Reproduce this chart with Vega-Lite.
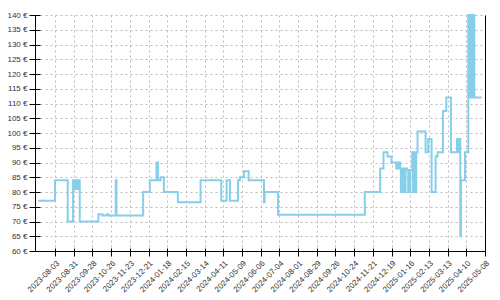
{
  "$schema": "https://vega.github.io/schema/vega-lite/v6.json",
  "width": 450,
  "height": 236,
  "autosize": "none",
  "padding": {"left": 35, "top": 15, "right": 15, "bottom": 49},
  "background": "white",
  "config": {
    "view": {"stroke": null},
    "axis": {
      "labelFont": "Liberation Sans",
      "labelFontSize": 8,
      "labelColor": "#333333",
      "domainColor": "#000000",
      "tickColor": "#000000",
      "gridColor": "#bbbbbb",
      "gridDash": [2, 3],
      "gridWidth": 1,
      "labelOverlap": false,
      "title": null
    }
  },
  "data": {
    "values": [
      {"date": "2023-07-09", "price": 77},
      {"date": "2023-08-03", "price": 84},
      {"date": "2023-08-22", "price": 70},
      {"date": "2023-08-30", "price": 84},
      {"date": "2023-08-31", "price": 81},
      {"date": "2023-09-01", "price": 84},
      {"date": "2023-09-02", "price": 81},
      {"date": "2023-09-03", "price": 84},
      {"date": "2023-09-04", "price": 81},
      {"date": "2023-09-05", "price": 84},
      {"date": "2023-09-06", "price": 81},
      {"date": "2023-09-07", "price": 84},
      {"date": "2023-09-09", "price": 70},
      {"date": "2023-10-07", "price": 72.5},
      {"date": "2023-10-13", "price": 72},
      {"date": "2023-10-20", "price": 72.5},
      {"date": "2023-10-22", "price": 72},
      {"date": "2023-11-02", "price": 84},
      {"date": "2023-11-03", "price": 72},
      {"date": "2023-12-13", "price": 80},
      {"date": "2023-12-23", "price": 84},
      {"date": "2024-01-02", "price": 90},
      {"date": "2024-01-04", "price": 84},
      {"date": "2024-01-08", "price": 85},
      {"date": "2024-01-13", "price": 80},
      {"date": "2024-02-03", "price": 76.5},
      {"date": "2024-03-08", "price": 84},
      {"date": "2024-04-08", "price": 77},
      {"date": "2024-04-16", "price": 84},
      {"date": "2024-04-21", "price": 77},
      {"date": "2024-05-03", "price": 84},
      {"date": "2024-05-06", "price": 85},
      {"date": "2024-05-12", "price": 87},
      {"date": "2024-05-19", "price": 84},
      {"date": "2024-06-11", "price": 76.5},
      {"date": "2024-06-12", "price": 80},
      {"date": "2024-07-02", "price": 72.3},
      {"date": "2024-11-09", "price": 80},
      {"date": "2024-12-02", "price": 88},
      {"date": "2024-12-07", "price": 93.5},
      {"date": "2024-12-13", "price": 92},
      {"date": "2024-12-19", "price": 90},
      {"date": "2024-12-26", "price": 88},
      {"date": "2024-12-27", "price": 90},
      {"date": "2024-12-28", "price": 88},
      {"date": "2024-12-29", "price": 90},
      {"date": "2024-12-30", "price": 88},
      {"date": "2024-12-31", "price": 90},
      {"date": "2025-01-01", "price": 88},
      {"date": "2025-01-02", "price": 80},
      {"date": "2025-01-03", "price": 88},
      {"date": "2025-01-04", "price": 80},
      {"date": "2025-01-05", "price": 88},
      {"date": "2025-01-06", "price": 80},
      {"date": "2025-01-07", "price": 88},
      {"date": "2025-01-08", "price": 80},
      {"date": "2025-01-09", "price": 88},
      {"date": "2025-01-11", "price": 87.5},
      {"date": "2025-01-13", "price": 80},
      {"date": "2025-01-14", "price": 87.5},
      {"date": "2025-01-15", "price": 80},
      {"date": "2025-01-16", "price": 87.5},
      {"date": "2025-01-19", "price": 93.5},
      {"date": "2025-01-20", "price": 80},
      {"date": "2025-01-21", "price": 93.5},
      {"date": "2025-01-22", "price": 80},
      {"date": "2025-01-23", "price": 93.5},
      {"date": "2025-01-24", "price": 80},
      {"date": "2025-01-25", "price": 93.5},
      {"date": "2025-01-27", "price": 100.5},
      {"date": "2025-02-08", "price": 93.5},
      {"date": "2025-02-12", "price": 98},
      {"date": "2025-02-17", "price": 80},
      {"date": "2025-02-23", "price": 92},
      {"date": "2025-02-26", "price": 93.5},
      {"date": "2025-03-06", "price": 107.5},
      {"date": "2025-03-11", "price": 112},
      {"date": "2025-03-18", "price": 93.5},
      {"date": "2025-03-27", "price": 98},
      {"date": "2025-03-28", "price": 93.5},
      {"date": "2025-03-29", "price": 98},
      {"date": "2025-03-30", "price": 93.5},
      {"date": "2025-03-31", "price": 98},
      {"date": "2025-04-01", "price": 65},
      {"date": "2025-04-02", "price": 84},
      {"date": "2025-04-08", "price": 93.5},
      {"date": "2025-04-13", "price": 140},
      {"date": "2025-04-14", "price": 112},
      {"date": "2025-04-15", "price": 140},
      {"date": "2025-04-16", "price": 112},
      {"date": "2025-04-17", "price": 140},
      {"date": "2025-04-18", "price": 112},
      {"date": "2025-04-19", "price": 140},
      {"date": "2025-04-20", "price": 112},
      {"date": "2025-04-21", "price": 140},
      {"date": "2025-04-22", "price": 112},
      {"date": "2025-05-03", "price": 112}
    ]
  },
  "layer": [
    {
      "mark": {"type": "line", "interpolate": "step-after", "color": "#87CEEB", "strokeWidth": 2},
      "encoding": {
        "x": {
          "field": "date", "type": "temporal",
          "scale": {"type": "utc", "domain": [{"year": 2023, "month": 7, "date": 4, "utc": true}, {"year": 2025, "month": 5, "date": 8, "utc": true}]},
          "axis": {
            "format": "%Y-%m-%d", "labelAngle": -45, "tickSize": 5, "labelPadding": 3, "labelBound": false,
            "values": [
              {"year": 2023, "month": 8, "date": 3, "utc": true},
              {"year": 2023, "month": 8, "date": 31, "utc": true},
              {"year": 2023, "month": 9, "date": 28, "utc": true},
              {"year": 2023, "month": 10, "date": 26, "utc": true},
              {"year": 2023, "month": 11, "date": 23, "utc": true},
              {"year": 2023, "month": 12, "date": 21, "utc": true},
              {"year": 2024, "month": 1, "date": 18, "utc": true},
              {"year": 2024, "month": 2, "date": 15, "utc": true},
              {"year": 2024, "month": 3, "date": 14, "utc": true},
              {"year": 2024, "month": 4, "date": 11, "utc": true},
              {"year": 2024, "month": 5, "date": 9, "utc": true},
              {"year": 2024, "month": 6, "date": 6, "utc": true},
              {"year": 2024, "month": 7, "date": 4, "utc": true},
              {"year": 2024, "month": 8, "date": 1, "utc": true},
              {"year": 2024, "month": 8, "date": 29, "utc": true},
              {"year": 2024, "month": 9, "date": 26, "utc": true},
              {"year": 2024, "month": 10, "date": 24, "utc": true},
              {"year": 2024, "month": 11, "date": 21, "utc": true},
              {"year": 2024, "month": 12, "date": 19, "utc": true},
              {"year": 2025, "month": 1, "date": 16, "utc": true},
              {"year": 2025, "month": 2, "date": 13, "utc": true},
              {"year": 2025, "month": 3, "date": 13, "utc": true},
              {"year": 2025, "month": 4, "date": 10, "utc": true},
              {"year": 2025, "month": 5, "date": 8, "utc": true}
            ]
          }
        },
        "y": {
          "field": "price", "type": "quantitative",
          "scale": {"domain": [60, 140], "nice": false, "zero": false},
          "axis": {
            "values": [60, 65, 70, 75, 80, 85, 90, 95, 100, 105, 110, 115, 120, 125, 130, 135, 140],
            "labelExpr": "datum.value + ' €'", "tickSize": 6, "labelPadding": 2
          }
        }
      }
    },
    {
      "mark": {"type": "line", "interpolate": "step-after", "opacity": 0},
      "encoding": {
        "x": {"field": "date", "type": "temporal", "axis": null},
        "y": {
          "field": "price", "type": "quantitative",
          "axis": {"orient": "right", "labels": false, "ticks": false, "grid": false, "domain": true}
        }
      }
    },
    {
      "mark": {"type": "line", "interpolate": "step-after", "opacity": 0},
      "encoding": {
        "x": {
          "field": "date", "type": "temporal",
          "axis": {
            "orient": "bottom", "labels": false, "grid": false, "domain": false, "tickSize": -3,
            "values": [
              {"year": 2023, "month": 8, "date": 3, "utc": true},
              {"year": 2023, "month": 8, "date": 31, "utc": true},
              {"year": 2023, "month": 9, "date": 28, "utc": true},
              {"year": 2023, "month": 10, "date": 26, "utc": true},
              {"year": 2023, "month": 11, "date": 23, "utc": true},
              {"year": 2023, "month": 12, "date": 21, "utc": true},
              {"year": 2024, "month": 1, "date": 18, "utc": true},
              {"year": 2024, "month": 2, "date": 15, "utc": true},
              {"year": 2024, "month": 3, "date": 14, "utc": true},
              {"year": 2024, "month": 4, "date": 11, "utc": true},
              {"year": 2024, "month": 5, "date": 9, "utc": true},
              {"year": 2024, "month": 6, "date": 6, "utc": true},
              {"year": 2024, "month": 7, "date": 4, "utc": true},
              {"year": 2024, "month": 8, "date": 1, "utc": true},
              {"year": 2024, "month": 8, "date": 29, "utc": true},
              {"year": 2024, "month": 9, "date": 26, "utc": true},
              {"year": 2024, "month": 10, "date": 24, "utc": true},
              {"year": 2024, "month": 11, "date": 21, "utc": true},
              {"year": 2024, "month": 12, "date": 19, "utc": true},
              {"year": 2025, "month": 1, "date": 16, "utc": true},
              {"year": 2025, "month": 2, "date": 13, "utc": true},
              {"year": 2025, "month": 3, "date": 13, "utc": true},
              {"year": 2025, "month": 4, "date": 10, "utc": true},
              {"year": 2025, "month": 5, "date": 8, "utc": true}
            ]
          }
        },
        "y": {
          "field": "price", "type": "quantitative",
          "axis": {
            "orient": "left", "labels": false, "grid": false, "domain": false, "tickSize": -5,
            "values": [60, 65, 70, 75, 80, 85, 90, 95, 100, 105, 110, 115, 120, 125, 130, 135, 140]
          }
        }
      }
    }
  ],
  "resolve": {"axis": {"x": "independent", "y": "independent"}}
}
